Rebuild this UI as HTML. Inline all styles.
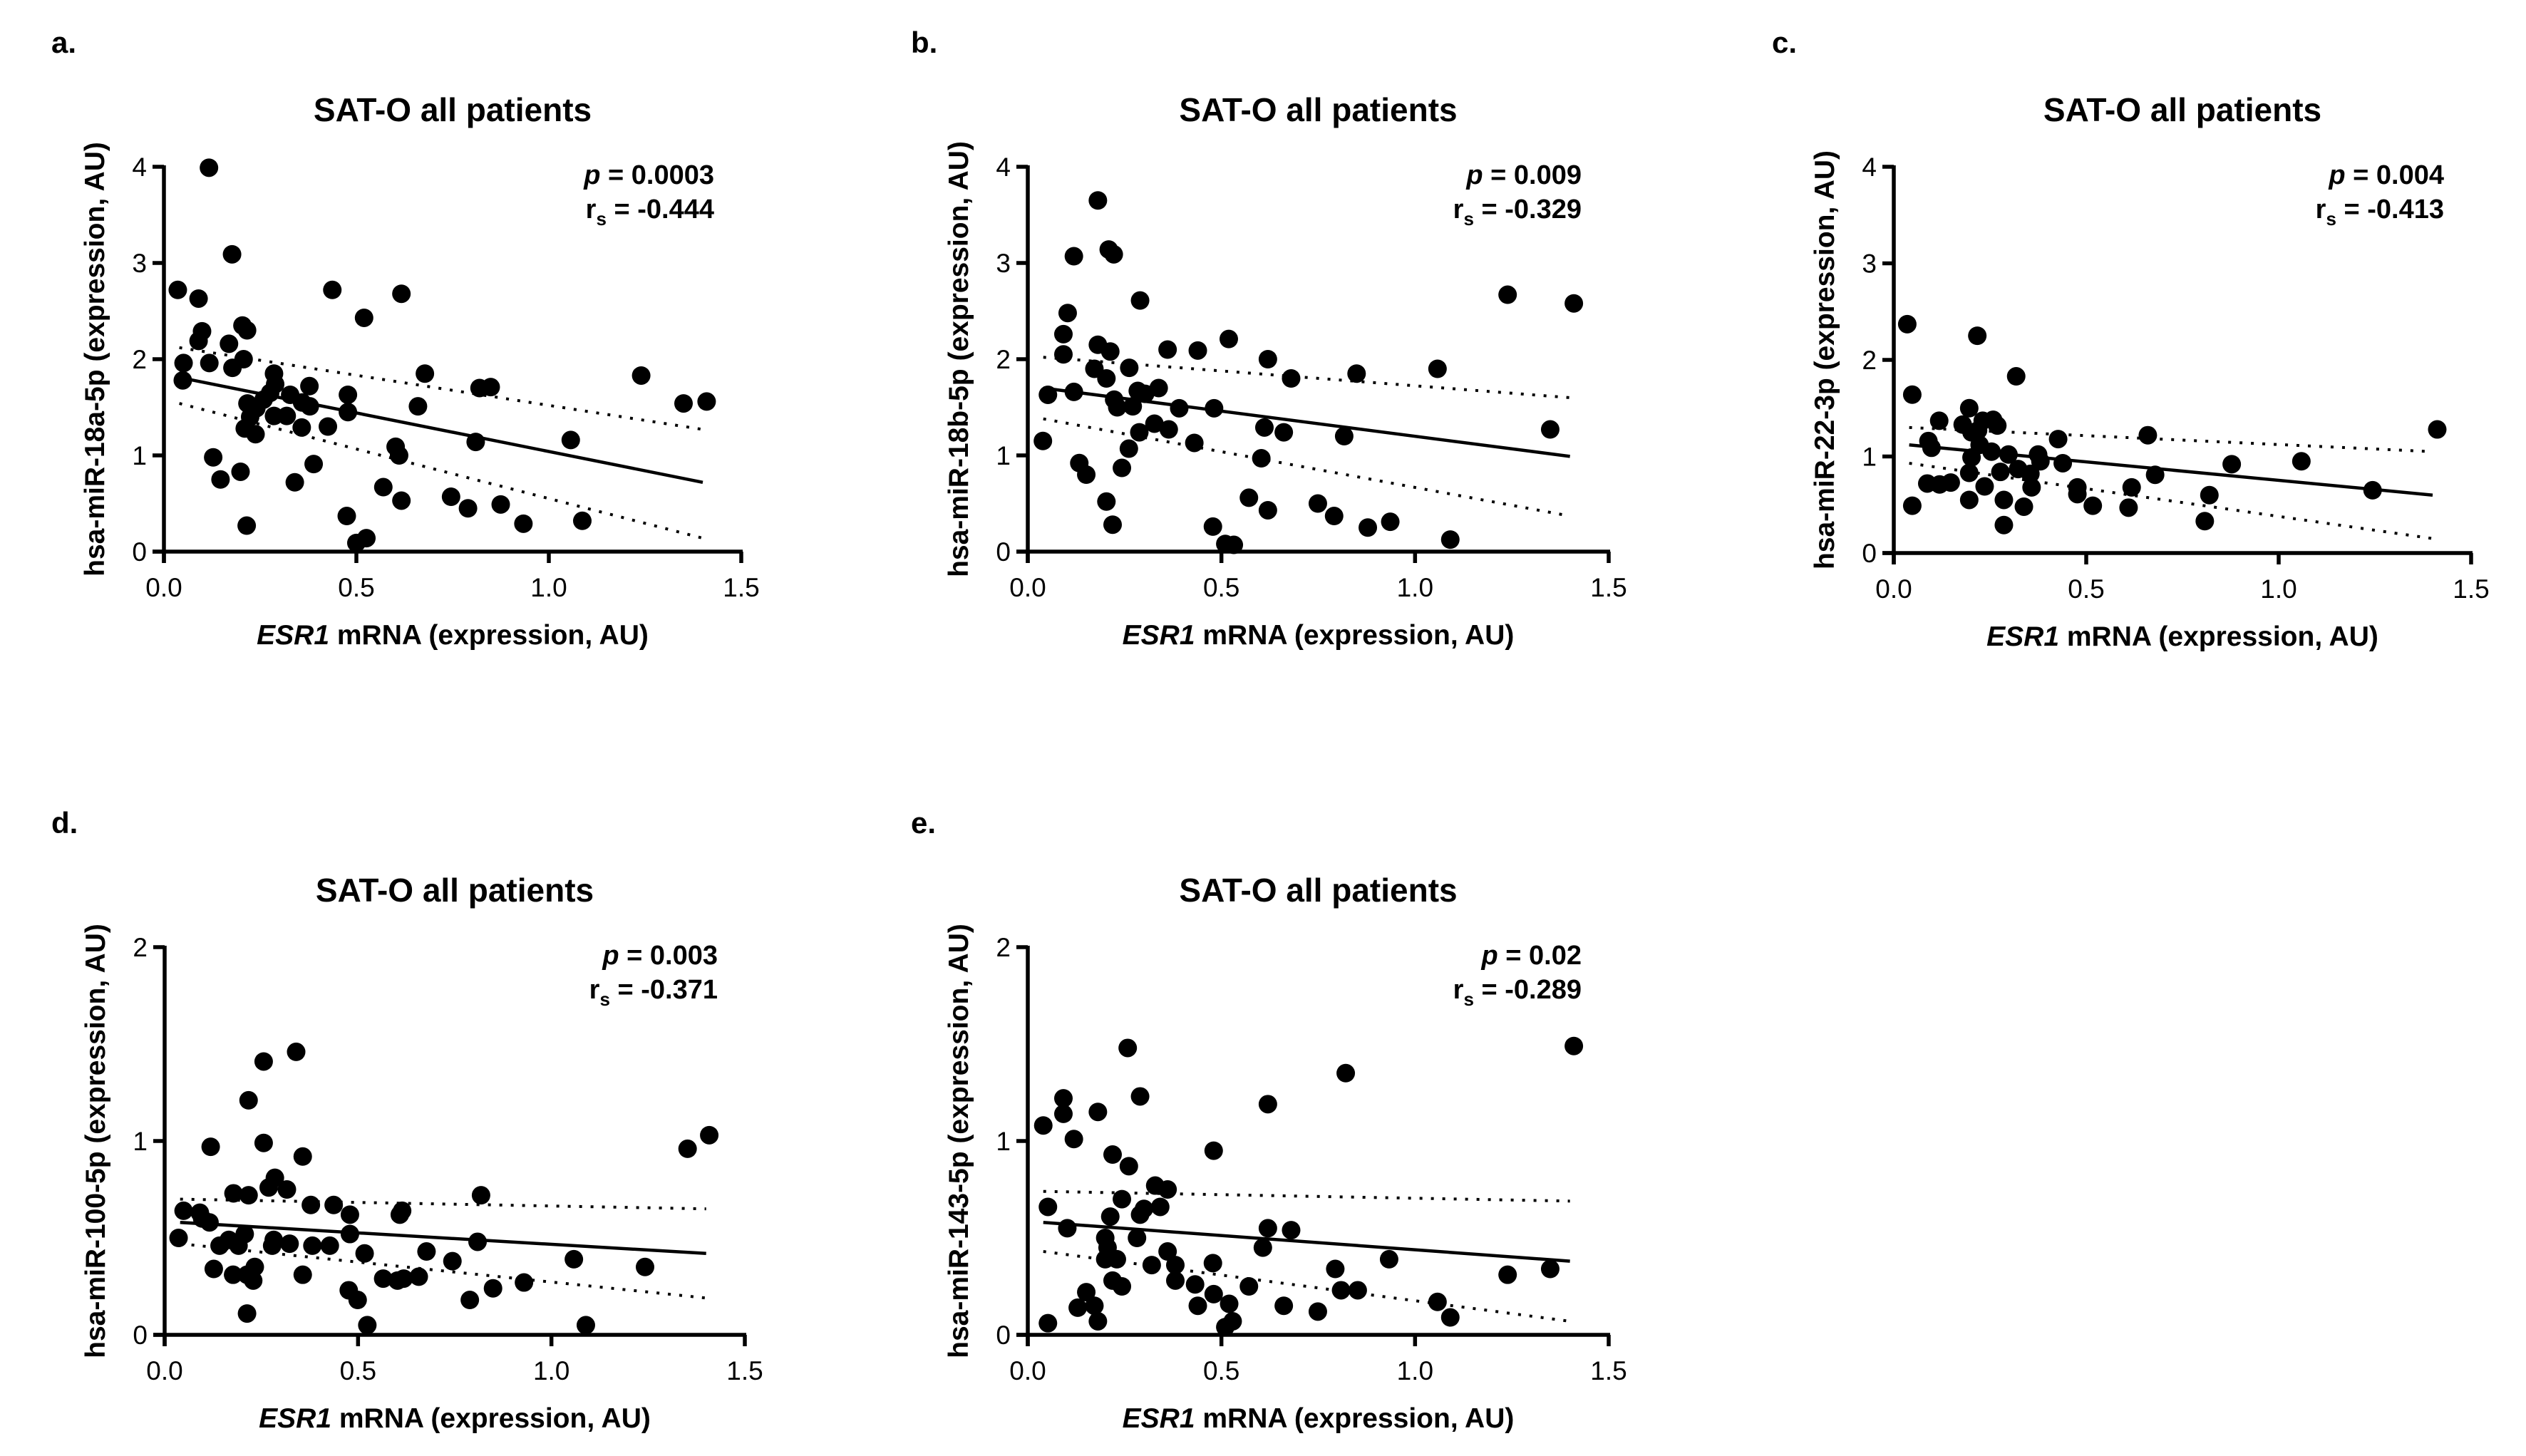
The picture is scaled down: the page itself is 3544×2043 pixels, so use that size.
<!DOCTYPE html>
<html><head><meta charset="utf-8">
<style>
html,body{margin:0;padding:0;background:#fff;}
svg{display:block;font-family:"Liberation Sans",Arial,sans-serif;}
</style></head>
<body>
<svg id="fig" width="3544" height="2043" viewBox="0 0 3544 2043" xmlns="http://www.w3.org/2000/svg">
<rect width="3544" height="2043" fill="#fff"/>
</svg>
<script>
const xTicks=[0,0.5,1.0,1.5];
const xTickLabels=["0.0","0.5","1.0","1.5"];
const fitX=[0.04,1.4];

const aX=[0.117,0.177,0.036,0.09,0.099,0.09,0.204,0.216,0.169,0.051,0.118,0.207,0.178,0.049,0.4375,0.52,0.617,0.678,0.82,0.849,1.24,1.35,1.41,0.286,0.289,0.276,0.259,0.217,0.24,0.224,0.286,0.319,0.328,0.359,0.378,0.379,0.478,0.478,0.426,0.358,0.21,0.238,0.66,0.81,1.057,0.602,0.611,0.128,0.389,0.199,0.147,0.34,0.57,0.617,0.746,0.79,0.875,0.934,1.087,0.215,0.475,0.526,0.5];
const aY=[3.99,3.09,2.72,2.63,2.29,2.19,2.35,2.30,2.16,1.96,1.96,2.0,1.91,1.78,2.72,2.43,2.68,1.85,1.70,1.71,1.83,1.54,1.56,1.85,1.74,1.65,1.58,1.54,1.49,1.40,1.41,1.41,1.63,1.55,1.72,1.51,1.63,1.45,1.30,1.29,1.28,1.22,1.51,1.14,1.16,1.09,1.0,0.98,0.91,0.83,0.75,0.72,0.67,0.53,0.57,0.45,0.49,0.29,0.32,0.27,0.37,0.14,0.09];
const aFit=[1.81,0.72], aUpper=[2.12,1.27], aLower=[1.54,0.14];

const bX=[0.181,0.119,0.209,0.222,0.29,0.103,0.092,0.092,0.181,0.213,0.172,0.203,0.262,0.361,0.439,0.519,0.62,0.68,0.849,1.058,1.239,1.41,1.349,0.052,0.119,0.223,0.284,0.303,0.338,0.231,0.271,0.391,0.481,0.327,0.288,0.364,0.611,0.661,0.817,0.43,0.261,0.039,0.603,0.133,0.151,0.243,0.571,0.62,0.749,0.791,0.878,0.936,1.091,0.203,0.219,0.478,0.51,0.532];
const bY=[3.65,3.07,3.14,3.09,2.61,2.48,2.26,2.05,2.15,2.08,1.90,1.80,1.91,2.10,2.09,2.21,2.0,1.80,1.85,1.90,2.67,2.58,1.27,1.63,1.66,1.58,1.67,1.64,1.70,1.50,1.51,1.49,1.49,1.33,1.24,1.27,1.29,1.24,1.20,1.13,1.07,1.15,0.97,0.92,0.80,0.87,0.56,0.43,0.50,0.37,0.25,0.31,0.125,0.52,0.28,0.26,0.08,0.07];
const bFit=[1.70,0.99], bUpper=[2.02,1.60], bLower=[1.38,0.37];

const cX=[0.035,0.217,0.318,0.048,0.196,0.118,0.179,0.231,0.258,0.269,0.202,0.219,0.427,0.66,1.412,0.09,0.098,0.223,0.254,0.298,0.375,0.202,0.381,0.439,0.878,1.059,0.323,0.277,0.196,0.355,0.679,0.087,0.119,0.148,0.236,0.358,0.477,0.618,1.244,0.477,0.196,0.286,0.82,0.048,0.338,0.517,0.61,0.808,0.286];
const cY=[2.37,2.25,1.83,1.64,1.50,1.37,1.33,1.37,1.38,1.32,1.25,1.27,1.18,1.22,1.28,1.16,1.09,1.12,1.05,1.02,1.02,0.99,0.95,0.93,0.92,0.95,0.87,0.84,0.83,0.82,0.81,0.72,0.71,0.73,0.69,0.68,0.68,0.68,0.65,0.61,0.55,0.55,0.60,0.49,0.48,0.49,0.47,0.33,0.29];
const cFit=[1.12,0.60], cUpper=[1.30,1.05], cLower=[0.93,0.15];

const dX=[0.34,0.256,0.217,1.408,1.352,0.256,0.119,0.357,0.285,0.269,0.316,0.178,0.217,0.818,0.378,0.437,0.479,0.049,0.091,0.614,0.608,0.116,0.097,0.036,0.207,0.166,0.142,0.191,0.282,0.278,0.323,0.479,0.382,0.427,0.809,0.517,0.677,0.744,1.058,1.242,0.127,0.177,0.213,0.233,0.229,0.357,0.565,0.602,0.618,0.657,0.929,0.849,0.476,0.499,0.789,0.213,0.524,1.089];
const dY=[1.46,1.41,1.21,1.03,0.96,0.99,0.97,0.92,0.81,0.76,0.75,0.73,0.72,0.72,0.67,0.67,0.62,0.64,0.63,0.64,0.62,0.58,0.60,0.50,0.52,0.49,0.46,0.46,0.49,0.46,0.47,0.52,0.46,0.46,0.48,0.42,0.43,0.38,0.39,0.35,0.34,0.31,0.31,0.35,0.28,0.31,0.29,0.28,0.29,0.30,0.27,0.24,0.23,0.18,0.18,0.11,0.05,0.05];
const dFit=[0.58,0.42], dUpper=[0.70,0.65], dLower=[0.47,0.19];

const eX=[0.258,1.41,0.821,0.29,0.092,0.092,0.181,0.62,0.04,0.119,0.48,0.219,0.261,0.329,0.361,0.243,0.052,0.3,0.342,0.29,0.213,0.102,0.62,0.68,0.282,0.2,0.206,0.607,0.361,0.2,0.23,0.933,0.32,0.381,0.478,0.794,1.349,1.239,0.381,0.219,0.243,0.432,0.571,0.151,0.809,0.852,0.48,0.129,0.172,0.439,0.52,0.661,1.058,0.181,0.749,1.091,0.052,0.51,0.529];
const eY=[1.48,1.49,1.35,1.23,1.22,1.14,1.15,1.19,1.08,1.01,0.95,0.93,0.87,0.77,0.75,0.70,0.66,0.65,0.66,0.62,0.61,0.55,0.55,0.54,0.50,0.50,0.45,0.45,0.43,0.39,0.39,0.39,0.36,0.36,0.37,0.34,0.34,0.31,0.28,0.28,0.25,0.26,0.25,0.22,0.23,0.23,0.21,0.14,0.15,0.15,0.16,0.15,0.17,0.07,0.12,0.09,0.06,0.04,0.07];
const eFit=[0.58,0.38], eUpper=[0.74,0.69], eLower=[0.43,0.07];

const NS="http://www.w3.org/2000/svg";
const svg=document.getElementById('fig');
function mk(tag,attrs,parent){const e=document.createElementNS(NS,tag);for(const k in attrs)e.setAttribute(k,attrs[k]);(parent||svg).appendChild(e);return e;}

const panels=[
 {id:'a',letter:'a.',lx:72,x0:230,y0:774,w:810,h:540,ymax:4,yticks:[0,1,2,3,4],ylab:'hsa-miR-18a-5p (expression, AU)',p:'0.0003',r:'-0.444',X:aX,Y:aY,fit:aFit,up:aUpper,lo:aLower},
 {id:'b',letter:'b.',lx:1278,x0:1442,y0:774,w:815,h:540,ymax:4,yticks:[0,1,2,3,4],ylab:'hsa-miR-18b-5p (expression, AU)',p:'0.009',r:'-0.329',X:bX,Y:bY,fit:bFit,up:bUpper,lo:bLower},
 {id:'c',letter:'c.',lx:2486,x0:2657,y0:776,w:810,h:542,ymax:4,yticks:[0,1,2,3,4],ylab:'hsa-miR-22-3p (expression, AU)',p:'0.004',r:'-0.413',X:cX,Y:cY,fit:cFit,up:cUpper,lo:cLower},
 {id:'d',letter:'d.',lx:72,x0:231,y0:1873,w:814,h:544,ymax:2,yticks:[0,1,2],ylab:'hsa-miR-100-5p (expression, AU)',p:'0.003',r:'-0.371',X:dX,Y:dY,fit:dFit,up:dUpper,lo:dLower},
 {id:'e',letter:'e.',lx:1278,x0:1442,y0:1873,w:815,h:544,ymax:2,yticks:[0,1,2],ylab:'hsa-miR-143-5p (expression, AU)',p:'0.02',r:'-0.289',X:eX,Y:eY,fit:eFit,up:eUpper,lo:eLower}
];

panels.forEach(P=>{
  const g=mk('g',{});
  
  
  const sx=v=>P.x0+v/1.5*P.w;
  const sy=v=>P.y0-v/P.ymax*P.h;
  const top=P.y0-P.h;
  const cx=P.x0+P.w/2;
  const t=(txt,attrs,name)=>{const e=mk('text',attrs,g);e.textContent=txt;return e;};
  t(P.letter,{x:P.lx,y:top-160,'font-size':42,'font-weight':'bold'},'panel-letter');
  t('SAT-O all patients',{x:cx,y:top-64,'font-size':46,'font-weight':'bold','text-anchor':'middle'},'chart-title');
  const st=mk('text',{x:P.x0+P.w-38,y:top+24,'font-size':38,'font-weight':'bold','text-anchor':'end'},g);
  
  
  const ts1=mk('tspan',{'font-style':'italic'},st);ts1.textContent='p';
  const ts2=mk('tspan',{},st);ts2.textContent=' = '+P.p;
  const rt=mk('text',{x:P.x0+P.w-38,y:top+72,'font-size':38,'font-weight':'bold','text-anchor':'end'},g);
  
  
  const r1=mk('tspan',{},rt);r1.textContent='r';
  const r2=mk('tspan',{'font-size':26,dy:10},rt);r2.textContent='s';
  const r3=mk('tspan',{dy:-10},rt);r3.textContent=' = '+P.r;
  const ax=mk('line',{x1:P.x0-16,y1:P.y0,x2:P.x0+P.w+2,y2:P.y0,stroke:'#000','stroke-width':5.5},g);
  
  
  const ay=mk('line',{x1:P.x0,y1:top-2,x2:P.x0,y2:P.y0+16,stroke:'#000','stroke-width':5.5},g);
  
  
  xTicks.forEach((v,i)=>{
    const l=mk('line',{x1:sx(v),y1:P.y0,x2:sx(v),y2:P.y0+16,stroke:'#000','stroke-width':5.5},g);
    
    
    t(xTickLabels[i],{x:sx(v),y:P.y0+63,'font-size':37,'text-anchor':'middle'},'x-tick-label');
  });
  P.yticks.forEach(v=>{
    const l=mk('line',{x1:P.x0-16,y1:sy(v),x2:P.x0,y2:sy(v),stroke:'#000','stroke-width':5.5},g);
    
    
    t(String(v),{x:P.x0-24,y:sy(v)+13,'font-size':37,'text-anchor':'end'},'y-tick-label');
  });
  const xt=mk('text',{x:cx,y:P.y0+130,'font-size':39,'font-weight':'bold','text-anchor':'middle'},g);
  
  
  const x1=mk('tspan',{'font-style':'italic'},xt);x1.textContent='ESR1';
  const x2=mk('tspan',{},xt);x2.textContent=' mRNA (expression, AU)';
  t(P.ylab,{x:0,y:0,'font-size':39,'font-weight':'bold','text-anchor':'middle',transform:`translate(${P.x0-84},${P.y0-P.h/2}) rotate(-90)`},'y-axis-title');
  P.X.forEach((v,i)=>{
    const c=mk('circle',{cx:sx(v),cy:sy(P.Y[i]),r:13,fill:'#000'},g);
    
    
  });
  const fl=mk('line',{x1:sx(fitX[0]),y1:sy(P.fit[0]),x2:sx(fitX[1]),y2:sy(P.fit[1]),stroke:'#000','stroke-width':4.5},g);
  
  
  const ul=mk('line',{x1:sx(fitX[0]),y1:sy(P.up[0]),x2:sx(fitX[1]),y2:sy(P.up[1]),stroke:'#000','stroke-width':4,'stroke-dasharray':'4 12'},g);
  
  
  const ll=mk('line',{x1:sx(fitX[0]),y1:sy(P.lo[0]),x2:sx(fitX[1]),y2:sy(P.lo[1]),stroke:'#000','stroke-width':4,'stroke-dasharray':'4 12'},g);
  
  
});
</script>
</body></html>
